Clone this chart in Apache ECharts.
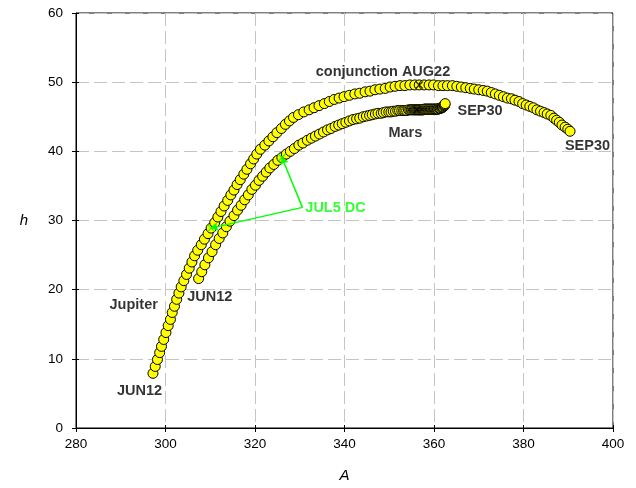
<!DOCTYPE html>
<html>
<head>
<meta charset="utf-8">
<title>Jupiter and Mars</title>
<script src="https://cdn.jsdelivr.net/npm/echarts@6/dist/echarts.min.js"></script>
<style>
  html, body { margin: 0; padding: 0; background: #fff; }
  #chart { width: 636px; height: 488px; }
</style>
</head>
<body>
<div id="chart"></div>
<script>
  // daily positions JUN12 .. SEP30, azimuth A and altitude h
  var jupiterA = [
    297.2, 297.7, 298.2, 298.7, 299.1, 299.6, 300.1, 300.6, 301.1, 301.5,
    302.0, 302.5, 303.0, 303.5, 304.1, 304.7, 305.3, 305.9, 306.5, 307.2,
    308.0, 308.7, 309.5, 310.2, 311.0, 311.7, 312.4, 313.1, 313.9, 314.6,
    315.3, 316.0, 316.7, 317.5, 318.2, 319.0, 319.7, 320.4, 321.2, 322.2,
    323.1, 324.0, 324.9, 325.9, 326.8, 327.7, 328.6, 329.7, 330.9, 332.1,
    333.2, 334.3, 335.5, 336.6, 337.7, 338.8, 339.9, 341.1, 342.3, 343.4,
    344.6, 345.7, 346.8, 347.9, 349.1, 350.2, 351.3, 352.4, 353.5, 354.6,
    355.7, 356.7, 357.8, 358.9, 359.9, 361.0, 362.0, 363.0, 364.1, 365.1,
    366.1, 367.1, 368.1, 369.0, 370.0, 371.0, 371.9, 372.8, 373.7, 374.6,
    375.5, 376.4, 377.3, 378.1, 379.0, 379.8, 380.6, 381.4, 382.2, 383.0,
    383.8, 384.6, 385.3, 386.1, 386.8, 387.4, 388.0, 388.6, 389.3, 389.9,
    390.4
  ];
  var jupiterH = [
    7.9, 8.9, 9.9, 10.9, 11.8, 12.8, 13.8, 14.8, 15.7, 16.7,
    17.6, 18.6, 19.5, 20.4, 21.3, 22.2, 23.1, 24.0, 24.9, 25.7,
    26.5, 27.3, 28.1, 28.9, 29.7, 30.5, 31.3, 32.1, 32.9, 33.7,
    34.4, 35.2, 35.9, 36.7, 37.4, 38.2, 38.9, 39.6, 40.3, 40.9,
    41.5, 42.1, 42.7, 43.3, 43.9, 44.4, 44.9, 45.3, 45.7, 46.0,
    46.3, 46.6, 46.9, 47.2, 47.5, 47.7, 47.9, 48.1, 48.3, 48.4,
    48.6, 48.7, 48.9, 49.0, 49.1, 49.3, 49.4, 49.5, 49.5, 49.6,
    49.6, 49.6, 49.6, 49.6, 49.6, 49.5, 49.5, 49.5, 49.5, 49.4,
    49.3, 49.2, 49.1, 49.0, 48.9, 48.8, 48.7, 48.5, 48.3, 48.1,
    47.9, 47.7, 47.6, 47.4, 47.2, 46.9, 46.7, 46.5, 46.3, 46.0,
    45.8, 45.6, 45.4, 45.2, 44.8, 44.5, 44.2, 43.8, 43.5, 43.2,
    42.9
  ];
  var marsA = [
    307.4, 308.1, 308.8, 309.6, 310.4, 311.2, 312.0, 312.8, 313.6, 314.4,
    315.3, 316.1, 316.9, 317.7, 318.5, 319.3, 320.1, 320.9, 321.7, 322.5,
    323.3, 324.2, 325.1, 326.0, 327.0, 327.9, 328.8, 329.8, 330.7, 331.7,
    332.6, 333.5, 334.4, 335.3, 336.2, 337.0, 337.9, 338.7, 339.5, 340.3,
    341.1, 341.9, 342.7, 343.4, 344.2, 344.9, 345.6, 346.2, 346.9, 347.5,
    348.2, 348.7, 349.3, 349.9, 350.4, 350.9, 351.4, 351.9, 352.3, 352.8,
    353.2, 353.5, 353.9, 354.3, 354.6, 354.9, 355.1, 355.4, 355.6, 355.8,
    356.0, 356.2, 356.4, 356.6, 356.7, 356.9, 357.1, 357.3, 357.4, 357.6,
    357.8, 358.0, 358.1, 358.3, 358.5, 358.7, 358.8, 359.0, 359.2, 359.4,
    359.5, 359.7, 359.9, 360.1, 360.2, 360.4, 360.6, 360.8, 360.9, 361.1,
    361.3, 361.4, 361.6, 361.8, 361.9, 362.0, 362.2, 362.3, 362.4, 362.4,
    362.5
  ];
  var marsH = [
    21.6, 22.6, 23.6, 24.6, 25.5, 26.5, 27.4, 28.2, 29.1, 29.9,
    30.7, 31.5, 32.2, 33.0, 33.7, 34.5, 35.1, 35.8, 36.4, 37.0,
    37.6, 38.1, 38.7, 39.1, 39.6, 40.0, 40.4, 40.9, 41.2, 41.6,
    41.9, 42.2, 42.5, 42.8, 43.1, 43.3, 43.6, 43.8, 44.0, 44.2,
    44.4, 44.6, 44.7, 44.8, 45.0, 45.1, 45.2, 45.3, 45.4, 45.5,
    45.5, 45.6, 45.7, 45.7, 45.7, 45.8, 45.8, 45.9, 45.9, 45.9,
    45.9, 45.9, 45.9, 46.0, 46.0, 46.0, 46.0, 46.0, 46.0, 46.0,
    46.0, 46.0, 46.0, 46.0, 46.0, 46.0, 46.0, 46.0, 46.0, 46.0,
    46.1, 46.1, 46.1, 46.1, 46.1, 46.1, 46.1, 46.1, 46.1, 46.1,
    46.1, 46.1, 46.1, 46.1, 46.1, 46.1, 46.1, 46.1, 46.1, 46.2,
    46.2, 46.2, 46.3, 46.3, 46.4, 46.4, 46.5, 46.6, 46.7, 46.8,
    46.9
  ];

  // day index of the marked dates
  var JUL5 = 23, AUG22 = 71;

  var xTicks = [280, 300, 320, 340, 360, 380, 400];
  var yTicks = [0, 10, 20, 30, 40, 50, 60];

  // text annotations: [text, A, h]
  var notes = [
    ['conjunction AUG22', 348.6, 51.5],
    ['Mars', 353.6, 42.7],
    ['SEP30', 370.3, 45.8],
    ['SEP30', 394.3, 40.8],
    ['JUN12', 309.9, 18.9],
    ['JUN12', 294.2, 5.4],
    ['Jupiter', 292.9, 17.8]
  ];
  var dcNote = ['JUL5 DC', 338.0, 31.8];
  var dcFrom = [330.6, 31.9];

  var FONT = '"Liberation Sans", Arial, sans-serif';
  var GREEN = '#00ff00';

  function zip(a, b) {
    return a.map(function (v, i) { return [v, b[i]]; });
  }

  var jupiter = zip(jupiterA, jupiterH);
  var mars = zip(marsA, marsH);

  var chart = echarts.init(document.getElementById('chart'), null, { renderer: 'canvas' });

  var xCommon = {
    type: 'value',
    min: xTicks[0],
    max: xTicks[xTicks.length - 1],
    interval: 20
  };
  var yCommon = {
    type: 'value',
    min: yTicks[0],
    max: yTicks[yTicks.length - 1],
    interval: 10
  };
  var crossMark = 'path://M0,0L10,10M10,0L0,10';

  chart.setOption({
    animation: false,
    backgroundColor: '#fff',
    textStyle: { fontFamily: FONT },
    grid: {
      left: 76, right: 23, top: 13, bottom: 58,
      show: true, borderColor: '#000', borderWidth: 1, backgroundColor: 'transparent'
    },
    xAxis: [
      Object.assign({}, xCommon, {
        name: 'A',
        nameLocation: 'middle',
        nameGap: 40,
        nameTextStyle: { fontStyle: 'italic', fontSize: 15, color: '#000', fontFamily: FONT },
        axisLine: { lineStyle: { color: '#000', width: 1 } },
        axisTick: { show: true, length: 4, lineStyle: { color: '#000' } },
        axisLabel: { margin: 9, fontSize: 13.5, color: '#000', fontFamily: FONT },
        splitLine: { show: true, lineStyle: { color: '#c4c4c4', type: [13, 5], width: 1 } }
      }),
      Object.assign({}, xCommon, {
        position: 'bottom',
        axisLine: { show: false },
        axisTick: { show: true, inside: true, length: 3, lineStyle: { color: '#000' } },
        axisLabel: { show: false },
        splitLine: { show: false }
      })
    ],
    yAxis: [
      Object.assign({}, yCommon, {
        name: 'h',
        nameLocation: 'middle',
        nameRotate: 0,
        nameGap: 48,
        nameTextStyle: { fontStyle: 'italic', fontSize: 15, color: '#000', fontFamily: FONT },
        axisLine: { show: true, lineStyle: { color: '#000', width: 1 } },
        axisTick: { show: true, length: 4, lineStyle: { color: '#000' } },
        axisLabel: { margin: 13, fontSize: 13.5, color: '#000', fontFamily: FONT },
        splitLine: { show: true, lineStyle: { color: '#c4c4c4', type: [13, 5], width: 1 } }
      }),
      Object.assign({}, yCommon, {
        position: 'left',
        axisLine: { show: false },
        axisTick: { show: true, inside: true, length: 3, lineStyle: { color: '#000' } },
        axisLabel: { show: false },
        splitLine: { show: false }
      })
    ],
    series: [
      {
        name: 'Jupiter',
        type: 'scatter',
        data: jupiter,
        symbol: 'circle',
        symbolSize: 10,
        itemStyle: { color: '#ffff00', borderColor: '#000', borderWidth: 1, opacity: 1 },
        silent: true,
        z: 2
      },
      {
        name: 'Mars',
        type: 'scatter',
        data: mars,
        symbol: 'circle',
        symbolSize: 10,
        itemStyle: { color: '#ffff00', borderColor: '#000', borderWidth: 1, opacity: 1 },
        silent: true,
        z: 2
      },
      {
        name: 'conjunction',
        type: 'scatter',
        data: [jupiter[AUG22], mars[AUG22]],
        symbol: crossMark,
        symbolSize: 7,
        itemStyle: { color: 'none', borderColor: '#000', borderWidth: 1.3 },
        silent: true,
        z: 3
      },
      {
        name: 'DC',
        type: 'scatter',
        data: [jupiter[JUL5], mars[JUL5]],
        symbol: crossMark,
        symbolSize: 7,
        itemStyle: { color: 'none', borderColor: GREEN, borderWidth: 1.3 },
        silent: true,
        z: 4
      },
      {
        name: 'arrows',
        type: 'lines',
        coordinateSystem: 'cartesian2d',
        polyline: false,
        symbol: ['none', 'arrow'],
        symbolSize: 7,
        lineStyle: { color: GREEN, width: 1.5, opacity: 1, curveness: 0 },
        data: [
          { coords: [dcFrom, jupiter[JUL5]] },
          { coords: [dcFrom, mars[JUL5]] }
        ],
        silent: true,
        z: 4
      },
      {
        name: 'notes',
        type: 'scatter',
        symbolSize: 1,
        itemStyle: { color: 'transparent' },
        label: {
          show: true,
          position: 'inside',
          formatter: function (p) { return p.name; },
          fontFamily: FONT,
          fontWeight: 'bold',
          fontSize: 14.5,
          color: '#000',
          textBorderWidth: 0,
          textShadowBlur: 0
        },
        data: notes.map(function (n) {
          return { name: n[0], value: [n[1], n[2]] };
        }).concat([{
          name: dcNote[0],
          value: [dcNote[1], dcNote[2]],
          label: { color: GREEN }
        }]),
        silent: true,
        z: 5
      }
    ]
  });
</script>
</body>
</html>
